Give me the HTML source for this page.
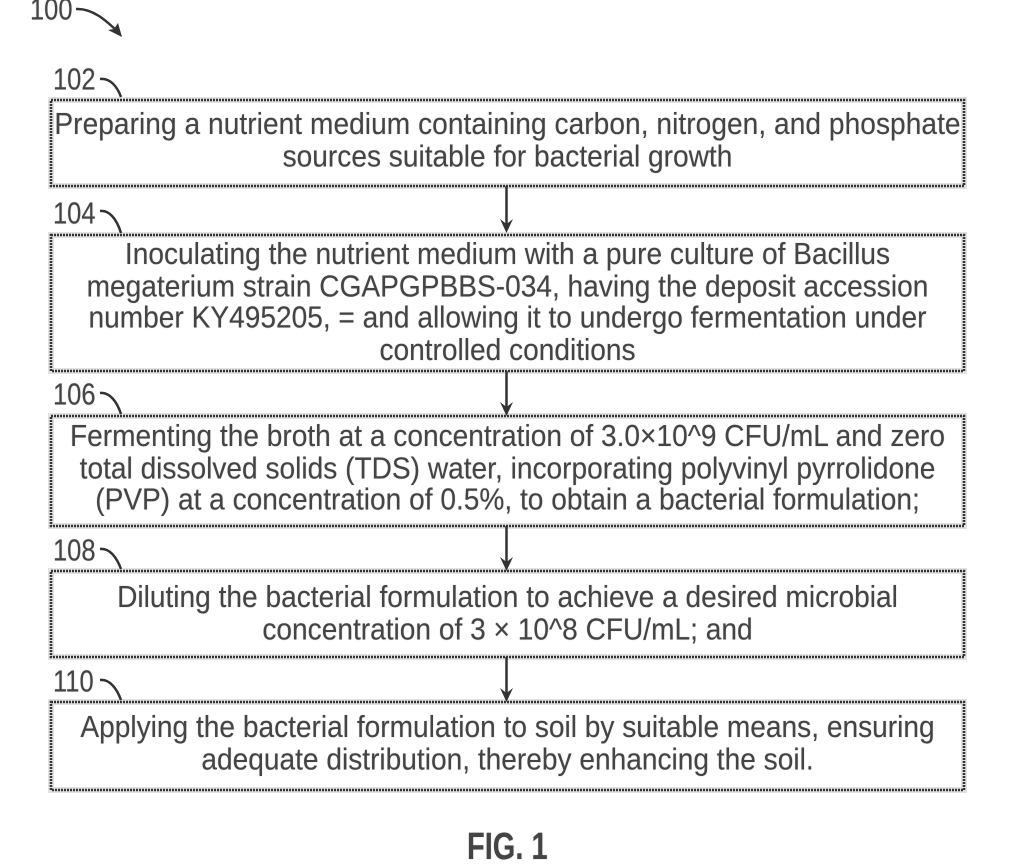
<!DOCTYPE html>
<html>
<head>
<meta charset="utf-8">
<style>
html,body{margin:0;padding:0;background:#fff;}
#c{position:relative;width:1009px;height:867px;overflow:hidden;background:#fff;font-family:"Liberation Sans",sans-serif;color:#444;}
svg{position:absolute;left:0;top:0;}
.t{position:absolute;left:0;width:1015px;white-space:nowrap;font-size:28.1px;line-height:29.63px;text-align:center;transform:scaleY(1.08);transform-origin:center top;text-shadow:0 0 1px #aaa;}
.l{position:absolute;white-space:nowrap;font-size:25.5px;line-height:30px;transform:scaleY(1.2);transform-origin:left top;text-shadow:0 0 1px #aaa;}
</style>
</head>
<body>
<div id="c">
<svg width="1009" height="867" viewBox="0 0 1009 867" fill="none">
<g stroke="#e2e2e2" stroke-width="6">
<rect x="51" y="100" width="913" height="86"/>
<rect x="51" y="235" width="913" height="136"/>
<rect x="51" y="416" width="913" height="110"/>
<rect x="51" y="571" width="913" height="86"/>
<rect x="51" y="702" width="913" height="88"/>
</g>
<g stroke="#333" stroke-width="2.6" stroke-dasharray="2 1">
<rect x="51" y="100" width="913" height="86"/>
<rect x="51" y="235" width="913" height="136"/>
<rect x="51" y="416" width="913" height="110"/>
<rect x="51" y="571" width="913" height="86"/>
<rect x="51" y="702" width="913" height="88"/>
</g>
<g stroke="#333" stroke-width="2.5">
<path d="M506.5 186V224"/><path d="M506.5 371V409"/><path d="M506.5 526V564"/><path d="M506.5 657V695"/>
<path d="M76 9C92 8 106 20 120 34"/>
<path d="M100 79C110 78 117 86 121 97"/><path d="M100 211C110 210 117 220 121 233"/>
<path d="M100 393C110 392 117 402 121 414"/><path d="M100 549C110 548 117 558 121 569"/>
<path d="M100 680C110 679 117 689 121 700"/>
</g>
<g fill="#333" stroke="none">
<path d="M500 219L506.5 224L513 219L506.5 233Z"/>
<path d="M500 402L506.5 407L513 402L506.5 416Z"/>
<path d="M500 557L506.5 562L513 557L506.5 571Z"/>
<path d="M500 688L506.5 693L513 688L506.5 702Z"/>
<path d="M108 30L114 29L118 23L122 37Z"/>
</g>
</svg>
<div class="l" style="left:30px;top:-8px">100</div>
<div class="l" style="left:53px;top:62px">102</div>
<div class="l" style="left:53px;top:196px">104</div>
<div class="l" style="left:53px;top:377px">106</div>
<div class="l" style="left:53px;top:533px">108</div>
<div class="l" style="left:53px;top:664px">110</div>

<div class="t" style="top:107.5px"><span style="letter-spacing:.05px">Preparing a nutrient medium containing carbon, nitrogen, and phosphate</span><br>sources suitable for bacterial growth</div>
<div class="t" style="top:238px">Inoculating the nutrient medium with a pure culture of Bacillus<br>megaterium strain CGAPGPBBS-034, having the deposit accession<br>number KY495205, = and allowing it to undergo fermentation under<br>controlled conditions</div>
<div class="t" style="top:420px">Fermenting the broth at a concentration of 3.0×10^9 CFU/mL and zero<br>total dissolved solids (TDS) water, incorporating polyvinyl pyrrolidone<br>(PVP) at a concentration of 0.5%, to obtain a bacterial formulation;</div>
<div class="t" style="top:581px">Diluting the bacterial formulation to achieve a desired microbial<br>concentration of 3 × 10^8 CFU/mL; and</div>
<div class="t" style="top:711px">Applying the bacterial formulation to soil by suitable means, ensuring<br>adequate distribution, thereby enhancing the soil.</div>
<div class="l" style="left:467px;top:828px;font-weight:bold;font-size:29px;transform:scaleY(1.3);color:#444">FIG. 1</div>
</div>
</body>
</html>
